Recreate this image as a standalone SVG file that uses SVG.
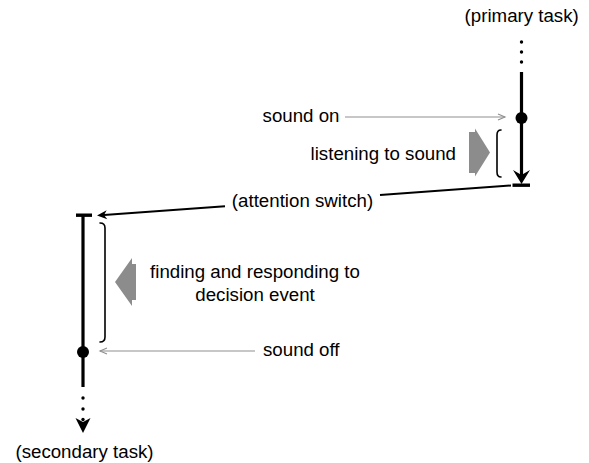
<svg xmlns="http://www.w3.org/2000/svg" width="589" height="463" viewBox="0 0 589 463">
  <style>
    text { font-family: "Liberation Sans", Arial, sans-serif; font-size: 18.7px; fill: #000; }
    .thick { stroke: #000; stroke-width: 3.2; fill: none; }
    .bracket { stroke: #000; stroke-width: 1.6; fill: none; stroke-linecap: round; }
    .block { fill: #8c8c8c; stroke: none; }
    .grey { stroke: #8f8f8f; stroke-width: 1.1; fill: none; }
    .conn { stroke: #000; stroke-width: 2; fill: none; }
  </style>
  <defs>
    <marker id="headBlack" markerUnits="userSpaceOnUse" markerWidth="12" markerHeight="10" refX="3" refY="4.5" orient="auto" overflow="visible">
      <path d="M0,0 L10,4.5 L0,9 L3,4.5 Z" fill="#000"/>
    </marker>
    <marker id="headGrey" markerUnits="userSpaceOnUse" markerWidth="8" markerHeight="8" refX="7" refY="3" orient="auto" overflow="visible">
      <path d="M0,0 L7,3 L0,6" fill="none" stroke="#8f8f8f" stroke-width="1.1"/>
    </marker>
  </defs>

  <g id="primary-task">
    <text x="521.7" y="22" text-anchor="middle">(primary task)</text>
    <circle cx="521.5" cy="42" r="1.7"/>
    <circle cx="521.5" cy="52" r="1.7"/>
    <circle cx="521.5" cy="62" r="1.7"/>
    <line class="thick" x1="521.5" y1="72" x2="521.5" y2="176"/>
    <path d="M513,170 L521.5,184 L530,170 L521.5,175 Z" fill="#000"/>
    <rect x="512.5" y="183.5" width="17.5" height="3.4" fill="#000"/>
    <circle cx="521.5" cy="118" r="6"/>
  </g>

  <g id="listening">
    <path class="bracket" d="M501,130 Q497,130 497,135 L497,172 Q497,177 501,177"/>
    <path class="block" d="M469,132 L475,132 L475,128.5 L490,152.5 L475,176.5 L475,173 L469,173 Z"/>
    <text x="456" y="160" text-anchor="end">listening to sound</text>
  </g>

  <g id="sound-on">
    <text x="339.5" y="121.7" text-anchor="end">sound on</text>
  </g>

  <g id="attention-switch">
    <text x="302.5" y="206.7" text-anchor="middle">(attention switch)</text>
  </g>

  <g id="secondary-task">
    <rect x="76" y="213.5" width="16" height="3.4" fill="#000"/>
    <line class="thick" x1="83" y1="215" x2="83" y2="387"/>
    <circle cx="83" cy="352" r="6"/>
    <circle cx="83" cy="398" r="1.7"/>
    <circle cx="83" cy="409" r="1.7"/>
    <circle cx="83" cy="419.5" r="1.7"/>
    <path d="M75.5,418 L83,433 L90.5,418 L83,422 Z" fill="#000"/>
    <text x="84.5" y="458" text-anchor="middle">(secondary task)</text>
  </g>

  <g id="finding">
    <path class="bracket" d="M100,223 Q105,223 105,228 L105,337 Q105,342 100,342"/>
    <path class="block" d="M115,282 L132,258 L132,264 L136,264 L136,300 L132,300 L132,306 Z"/>
    <text x="255" y="278" text-anchor="middle">finding and responding to</text>
    <text x="255" y="301" text-anchor="middle">decision event</text>
  </g>

  <g id="sound-off">
    <text x="263" y="355.5" text-anchor="start">sound off</text>
  </g>

  <g id="connectors">
    <path class="conn" d="M511,185.5 L380,195 M225,206.3 L104,215" marker-end="url(#headBlack)"/>
    <line class="grey" x1="345" y1="117" x2="505" y2="117" marker-end="url(#headGrey)"/>
    <line class="grey" x1="255" y1="351" x2="100" y2="351" marker-end="url(#headGrey)"/>
  </g>
</svg>
